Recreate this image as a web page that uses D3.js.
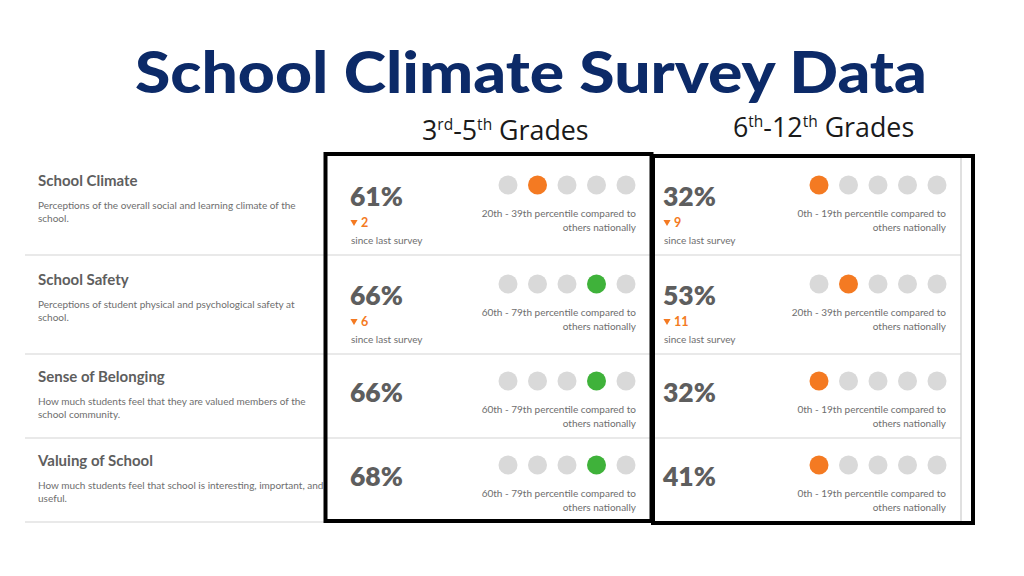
<!DOCTYPE html>
<html><head><meta charset="utf-8">
<script src="https://cdn.jsdelivr.net/npm/d3@7"></script>
<style>
html,body{margin:0;padding:0;background:#fff;}
svg{display:block;}
</style></head>
<body>
<svg id="chart" width="1024" height="576"></svg>
<script>
// ---------- data ----------
const title = "School Climate Survey Data";
const domains = ["School Climate", "School Safety", "Sense of Belonging", "Valuing of School"];
const descriptions = [
  ["Perceptions of the overall social and learning climate of the", "school."],
  ["Perceptions of student physical and psychological safety at", "school."],
  ["How much students feel that they are valued members of the", "school community."],
  ["How much students feel that school is interesting, important, and", "useful."]
];
const gradeGroups = [["3", "rd", "-5", "th", " Grades"], ["6", "th", "-12", "th", " Grades"]];
const values35 = [61, 66, 66, 68];
const change35 = [-2, -6, null, null];
const bin35 = [1, 3, 3, 3];
const values612 = [32, 53, 32, 41];
const change612 = [-9, -11, null, null];
const bin612 = [0, 1, 0, 0];
const percentileLabels = ["0th - 19th", "20th - 39th", "40th - 59th", "60th - 79th", "80th - 99th"];
const binColors = ["#f47a22", "#f47a22", "#f2c230", "#3fb23a", "#3fb23a"];

// ---------- layout ----------
const svg = d3.select("#chart");
const FONT = "Lato, 'Open Sans', sans-serif";
const textGray = "#5e5e5e", smallGray = "#6e6e6e", lineGray = "#e2e2e2", dotGray = "#d9d9d9";
const SMALL = 10;

// title
svg.append("text").attr("x", 531).attr("y", 93).attr("text-anchor", "middle")
  .attr("font-family", FONT).attr("font-weight", 900).attr("font-size", 57)
  .attr("fill", "#0c2a68").attr("textLength", 792).attr("lengthAdjust", "spacingAndGlyphs")
  .text(title);

// grade headers
const headerPos = [{x: 422, y: 140}, {x: 733, y: 137}];
gradeGroups.forEach((parts, i) => {
  const t = svg.append("text").attr("x", headerPos[i].x).attr("y", headerPos[i].y)
    .attr("font-family", "'Open Sans', 'DejaVu Sans', sans-serif").attr("font-size", 26.8).attr("fill", "#1a1a1a");
  parts.forEach((p, j) => {
    const sup = j % 2 === 1 && j < 4;
    t.append("tspan").attr("font-size", sup ? 15.5 : 26.8)
      .attr("dy", sup ? -10 : (j > 0 ? 10 : 0)).text(p);
  });
});

// rows (height depends on whether a change line is shown)
const hasChange = domains.map((d, i) => change35[i] !== null || change612[i] !== null);
const rowTops = [156];
hasChange.forEach((h, i) => rowTops.push(rowTops[i] + (h ? 99 : 84)));
const rowY = d3.scaleOrdinal().domain(d3.range(domains.length)).range(rowTops);

// separators
svg.selectAll("line.sep").data(rowTops.slice(1)).join("line").attr("class", "sep")
  .attr("x1", 25).attr("x2", 961).attr("y1", d => d).attr("y2", d => d)
  .attr("stroke", lineGray).attr("stroke-width", 1.3);
svg.append("line").attr("x1", 961).attr("x2", 961).attr("y1", 158).attr("y2", rowTops[4])
  .attr("stroke", "#cfcfcf").attr("stroke-width", 1.3);

// left column labels
domains.forEach((d, i) => {
  const y0 = rowY(i);
  const off = hasChange[i] ? 0 : -2;
  svg.append("text").attr("x", 38).attr("y", y0 + 30 + off)
    .attr("font-family", FONT).attr("font-weight", 700).attr("font-size", 15)
    .attr("fill", textGray).text(d);
  descriptions[i].forEach((line, k) => {
    svg.append("text").attr("x", 38).attr("y", y0 + 53 + k * 13 + off)
      .attr("font-family", FONT).attr("font-size", SMALL).attr("fill", smallGray).text(line);
  });
});

// panels
const panels = [
  {values: values35, change: change35, bin: bin35, valueX: 351, dot0: 508, dot1: 626, textR: 636},
  {values: values612, change: change612, bin: bin612, valueX: 664, dot0: 819, dot1: 937, textR: 946}
];
panels.forEach(p => {
  const xDot = d3.scalePoint().domain(d3.range(5)).range([p.dot0, p.dot1]);
  p.values.forEach((v, i) => {
    const y0 = rowY(i);
    const off = hasChange[i] ? 0 : -2;
    const g = svg.append("g");
    // dots
    g.selectAll("circle").data(d3.range(5)).join("circle")
      .attr("cx", d => xDot(d)).attr("cy", y0 + 29 + off).attr("r", 9.5)
      .attr("fill", d => d === p.bin[i] ? binColors[d] : dotGray);
    // percentile text
    g.append("text").attr("x", p.textR).attr("y", y0 + 61 + off).attr("text-anchor", "end")
      .attr("font-family", FONT).attr("font-size", SMALL).attr("fill", smallGray)
      .text(percentileLabels[p.bin[i]] + " percentile compared to");
    g.append("text").attr("x", p.textR).attr("y", y0 + 75 + off).attr("text-anchor", "end")
      .attr("font-family", FONT).attr("font-size", SMALL).attr("fill", smallGray)
      .text("others nationally");
    // value
    g.append("text").attr("x", p.valueX - 1).attr("y", y0 + 50 + off)
      .attr("font-family", FONT).attr("font-weight", 800).attr("font-size", 26.5)
      .attr("fill", textGray).text(v + "%");
    // change
    if (p.change[i] !== null) {
      g.append("path").attr("d", d3.symbol(d3.symbolTriangle, 22)())
        .attr("transform", `translate(${p.valueX + 3},${y0 + 66}) rotate(180)`)
        .attr("fill", "#f47a22");
      g.append("text").attr("x", p.valueX + 10).attr("y", y0 + 71)
        .attr("font-family", FONT).attr("font-weight", 700).attr("font-size", 12.5)
        .attr("fill", "#f47a22").text(Math.abs(p.change[i]));
      g.append("text").attr("x", p.valueX).attr("y", y0 + 88)
        .attr("font-family", FONT).attr("font-size", SMALL).attr("fill", smallGray)
        .text("since last survey");
    }
  });
});

// black highlight boxes
svg.append("rect").attr("x", 325.5).attr("y", 154).attr("width", 326).attr("height", 367)
  .attr("fill", "none").attr("stroke", "#000").attr("stroke-width", 4);
svg.append("rect").attr("x", 653).attr("y", 156).attr("width", 320).attr("height", 367)
  .attr("fill", "none").attr("stroke", "#000").attr("stroke-width", 4);
</script>
</body></html>
